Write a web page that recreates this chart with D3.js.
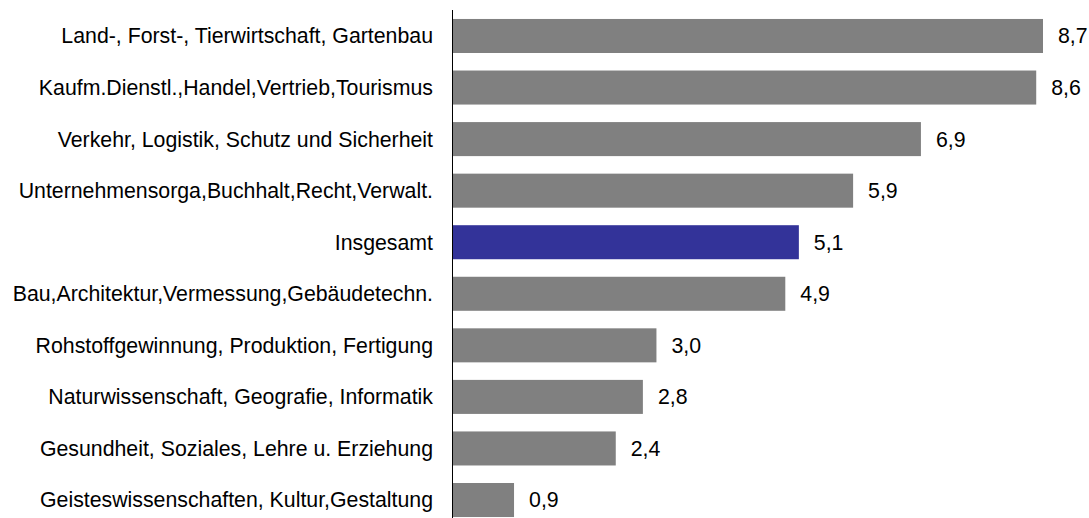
<!DOCTYPE html>
<html>
<head>
<meta charset="utf-8">
<script src="https://cdn.jsdelivr.net/npm/d3@7"></script>
<style>
body { margin: 0; background: #fff; }
text { font-family: "Liberation Sans", Arial, sans-serif; font-size: 21.3px; fill: #000; }
</style>
</head>
<body>
<div id="main_div"></div>
<script>
var categories = [
    "Land-, Forst-, Tierwirtschaft, Gartenbau",
    "Kaufm.Dienstl.,Handel,Vertrieb,Tourismus",
    "Verkehr, Logistik, Schutz und Sicherheit",
    "Unternehmensorga,Buchhalt,Recht,Verwalt.",
    "Insgesamt",
    "Bau,Architektur,Vermessung,Gebäudetechn.",
    "Rohstoffgewinnung, Produktion, Fertigung",
    "Naturwissenschaft, Geografie, Informatik",
    "Gesundheit, Soziales, Lehre u. Erziehung",
    "Geisteswissenschaften, Kultur,Gestaltung"
];
var values = [8.7, 8.6, 6.9, 5.9, 5.1, 4.9, 3.0, 2.8, 2.4, 0.9];
var highlight = "Insgesamt";

var data = categories.map(function(c, i) { return { name: c, value: values[i] }; });

var svg = d3.select("#main_div").append("svg").attr("width", 1089).attr("height", 518);

var x_scale = d3.scaleLinear().domain([0, 8.7]).range([453, 1043]);
var y_scale = d3.scaleBand().domain(categories).range([10.2, 525.8]).paddingInner(0.34).paddingOuter(0.17);

svg.append("g").selectAll("rect").data(data).enter().append("rect")
    .attr("x", x_scale(0))
    .attr("y", function(d) { return y_scale(d.name); })
    .attr("width", function(d) { return x_scale(d.value) - x_scale(0); })
    .attr("height", y_scale.bandwidth())
    .attr("fill", function(d) { return d.name == highlight ? "#333399" : "#808080"; });

svg.append("g").selectAll("text").data(data).enter().append("text")
    .attr("x", function(d) { return x_scale(d.value) + 15; })
    .attr("y", function(d) { return y_scale(d.name) + y_scale.bandwidth() / 2; })
    .attr("dy", "0.35em")
    .text(function(d) { return d.value.toFixed(1).replace(".", ","); });

svg.append("g").selectAll("text").data(data).enter().append("text")
    .attr("x", 433)
    .attr("y", function(d) { return y_scale(d.name) + y_scale.bandwidth() / 2; })
    .attr("dy", "0.35em")
    .attr("text-anchor", "end")
    .text(function(d) { return d.name; });

svg.append("line")
    .attr("x1", 452.5).attr("x2", 452.5)
    .attr("y1", 10).attr("y2", 518)
    .attr("stroke", "#000").attr("stroke-width", 1);
</script>
</body>
</html>
